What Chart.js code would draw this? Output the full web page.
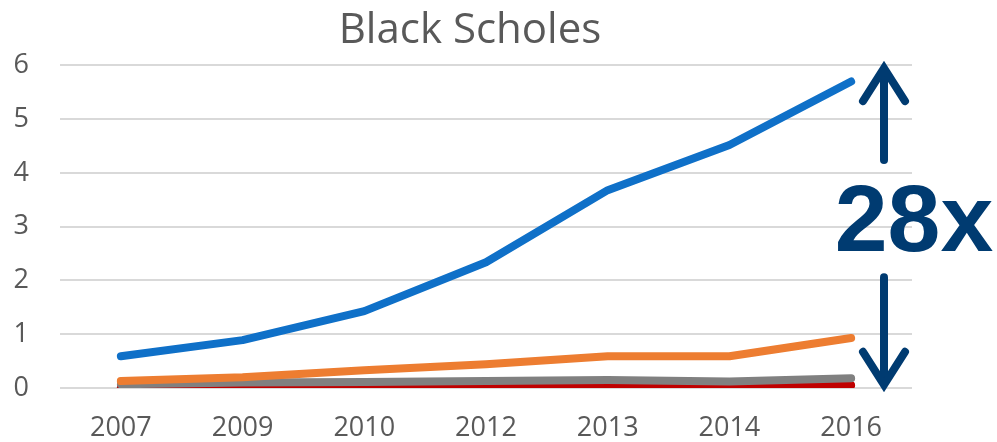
<!DOCTYPE html>
<html>
<head>
<meta charset="utf-8">
<script src="https://cdn.jsdelivr.net/npm/chart.js@4/dist/chart.umd.min.js"></script>
<style>
    html, body { margin: 0; padding: 0; background: #fff; }
    #wrap { width: 997px; height: 442px; }
</style>
</head>
<body>
<div id="wrap"><canvas id="chart"></canvas></div>
<script>
const years = ["2007", "2009", "2010", "2012", "2013", "2014", "2016"]
const blueSeries = [0.59, 0.89, 1.43, 2.34, 3.68, 4.52, 5.70]
const orangeSeries = [0.13, 0.20, 0.33, 0.44, 0.59, 0.59, 0.93]
const greySeries = [0.07, 0.10, 0.11, 0.13, 0.15, 0.12, 0.18]
const redSeries = [0.01, 0.01, 0.01, 0.02, 0.04, 0.03, 0.05]
const yTicks = [0, 1, 2, 3, 4, 5, 6]
const gainLabel = "28x"

const navy = "#003b71"
const textFont = "'Open Sans', 'Noto Sans', sans-serif"

// nudge the title a bit to the right, like the original
const titleShift = {
    id: "titleShift",
    afterLayout(chart) {
        if (chart.titleBlock) chart.titleBlock.left += 28
    }
}

// arrows + "28x" label on the right of the plot
const gainMarker = {
    id: "gainMarker",
    afterDatasetsDraw(chart) {
        const { ctx, chartArea, scales } = chart
        const y = scales.y
        const x = chartArea.right - 28

        function arrow(from, to) {
            const y1 = y.getPixelForValue(from)
            const y2 = y.getPixelForValue(to)
            const dir = y2 > y1 ? 1 : -1
            ctx.beginPath()
            ctx.moveTo(x, y1)
            ctx.lineTo(x, y2 - dir * 4)
            ctx.stroke()
            ctx.beginPath()
            ctx.moveTo(x - 21, y2 - dir * 33)
            ctx.lineTo(x, y2)
            ctx.lineTo(x + 21, y2 - dir * 33)
            ctx.stroke()
        }

        ctx.save()
        ctx.strokeStyle = navy
        ctx.lineWidth = 8
        ctx.lineCap = "round"
        arrow(4.24, 5.95)
        arrow(2.06, 0.06)

        ctx.fillStyle = navy
        ctx.font = "bold 95px 'Liberation Sans', Arial, sans-serif"
        ctx.textAlign = "center"
        ctx.textBaseline = "middle"
        ctx.fillText(gainLabel, x + 30, y.getPixelForValue(3.03))
        ctx.restore()
    }
}

function line(data, color) {
    return {
        data: data,
        borderColor: color,
        backgroundColor: color,
        borderWidth: 8,
        pointRadius: 0,
        tension: 0,
        borderCapStyle: "round",
        borderJoinStyle: "round",
        fill: false
    }
}

new Chart(document.getElementById("chart"), {
    type: "line",
    data: {
        labels: years,
        datasets: [
            line(blueSeries, "#0f70c8"),
            line(orangeSeries, "#ed7d31"),
            line(greySeries, "#808080"),
            line(redSeries, "#c00000")
        ]
    },
    options: {
        responsive: true,
        maintainAspectRatio: false,
        animation: false,
        layout: {
            padding: { left: 0, right: 85, top: 2, bottom: 0 }
        },
        plugins: {
            legend: { display: false },
            tooltip: { enabled: false },
            title: {
                display: true,
                text: "Black Scholes",
                color: "#595959",
                font: { family: textFont, size: 42, weight: "normal" },
                padding: { top: 4, bottom: 9 }
            }
        },
        scales: {
            x: {
                offset: true,
                grid: { display: false },
                border: { display: false },
                afterFit(axis) { axis.height = 54 },
                ticks: {
                    color: "#595959",
                    font: { family: textFont, size: 27 },
                    padding: 16,
                    maxRotation: 0
                }
            },
            y: {
                min: 0,
                max: 6,
                afterBuildTicks(axis) {
                    axis.ticks = yTicks.map(v => ({ value: v }))
                },
                afterFit(axis) { axis.width = 60 },
                grid: { color: "#d9d9d9", lineWidth: 2, drawTicks: false },
                border: { display: false },
                ticks: {
                    color: "#595959",
                    font: { family: textFont, size: 27 },
                    padding: 31
                }
            }
        }
    },
    plugins: [titleShift, gainMarker]
})
</script>
</body>
</html>
